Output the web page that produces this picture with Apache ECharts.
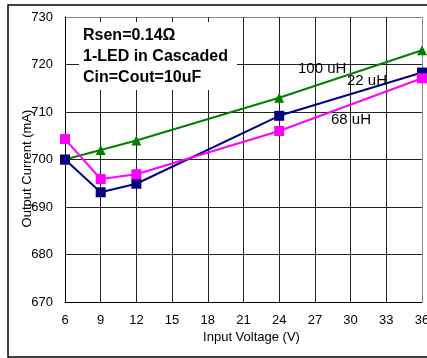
<!DOCTYPE html>
<html>
<head>
<meta charset="utf-8">
<script src="https://cdn.jsdelivr.net/npm/echarts@6/dist/echarts.min.js"></script>
<style>
  html, body { margin: 0; padding: 0; background: #fff; }
  #chart { width: 427px; height: 358px; }
</style>
</head>
<body>
<div id="chart"></div>
<script>
// Input voltage (V) points
const voltages = [6, 9, 12, 24, 36];
// Output current (mA) per inductor
const current100uH = [700, 702, 704, 713, 723];
const current22uH = [700, 693.1, 694.9, 709.2, 718.3];
const current68uH = [704.3, 695.9, 696.9, 706, 717.1];

const noteLines = ['Rsen=0.14\u03A9', '1-LED in Cascaded', 'Cin=Cout=10uF'];

function pairs(ys) {
    return voltages.map(function (v, i) { return [v, ys[i]]; });
}

// last grid line (top / right edge) is drawn lighter, as in the original
function edgeColors(n) {
    const c = [];
    for (let i = 0; i < n - 1; i++) c.push('#222');
    c.push('#888');
    return c;
}

const chart = echarts.init(document.getElementById('chart'));
const font = 'Liberation Sans, Arial, sans-serif';

chart.setOption({
    animation: false,
    grid: { left: 65, right: 5, top: 17, bottom: 56, outerBoundsMode: 'none' },
    xAxis: {
        type: 'value',
        min: 6, max: 36, interval: 3,
        name: 'Input Voltage (V)',
        nameLocation: 'middle',
        nameGap: 29,
        nameMoveOverlap: false,
        nameTextStyle: { fontFamily: font, fontSize: 13, color: '#000', padding: [0, 0, 0, 16] },
        axisLine: { lineStyle: { color: '#000', width: 1 } },
        axisTick: { show: false },
        axisLabel: { fontFamily: font, fontSize: 13, color: '#000', margin: 12 },
        splitLine: { show: true, lineStyle: { color: edgeColors(11), width: 1 } }
    },
    yAxis: {
        type: 'value',
        min: 670, max: 730, interval: 10,
        name: 'Output Current (mA)',
        nameLocation: 'middle',
        nameGap: 31,
        nameMoveOverlap: false,
        nameTextStyle: { fontFamily: font, fontSize: 13, color: '#000', padding: [0, 18, 0, 0] },
        axisLine: { show: true, lineStyle: { color: '#000', width: 1 } },
        axisTick: { show: false },
        axisLabel: { fontFamily: font, fontSize: 13, color: '#000', margin: 12 },
        splitLine: { show: true, lineStyle: { color: edgeColors(7), width: 1 } }
    },
    series: [
        {
            name: '100 uH', type: 'line', data: pairs(current100uH), z: 3,
            symbol: 'triangle', symbolSize: 10,
            lineStyle: { color: '#008000', width: 2 },
            itemStyle: { color: '#008000' }
        },
        {
            name: '22 uH', type: 'line', data: pairs(current22uH), z: 3,
            symbol: 'rect', symbolSize: 10,
            lineStyle: { color: '#000080', width: 2 },
            itemStyle: { color: '#000080' }
        },
        {
            name: '68 uH', type: 'line', data: pairs(current68uH), z: 3,
            symbol: 'rect', symbolSize: 10,
            lineStyle: { color: '#FF00FF', width: 2 },
            itemStyle: { color: '#FF00FF' }
        }
    ],
    graphic: {
        elements: [
            // outer frame (right side runs off the page)
            {
                type: 'rect', z: 0, silent: true,
                shape: { x: 8, y: 5, width: 440, height: 352 },
                style: { fill: 'none', stroke: '#000', lineWidth: 1.5 }
            },
            // white box behind the note
            {
                type: 'rect', z: 1, silent: true,
                shape: { x: 79, y: 22, width: 158, height: 68 },
                style: { fill: '#fff' }
            },
            {
                type: 'text', z: 5, left: 83, top: 28,
                style: { text: noteLines[0], font: 'bold 16px ' + font, fill: '#000' }
            },
            {
                type: 'text', z: 5, left: 83, top: 49,
                style: { text: noteLines[1], font: 'bold 16px ' + font, fill: '#000' }
            },
            {
                type: 'text', z: 5, left: 83, top: 70,
                style: { text: noteLines[2], font: 'bold 16px ' + font, fill: '#000' }
            },
            {
                type: 'text', z: 5, left: 298, top: 61,
                style: { text: '100 uH', font: '15px ' + font, fill: '#000' }
            },
            {
                type: 'text', z: 5, left: 347, top: 73,
                style: { text: '22 uH', font: '15px ' + font, fill: '#000' }
            },
            {
                type: 'text', z: 5, left: 331, top: 112,
                style: { text: '68 uH', font: '15px ' + font, fill: '#000' }
            }
        ]
    }
});

window.addEventListener('resize', function () {
    chart.resize();
});
</script>
</body>
</html>
